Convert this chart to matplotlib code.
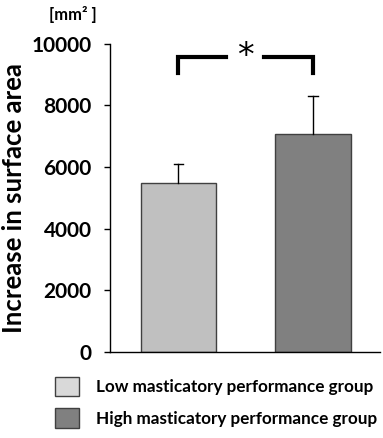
import matplotlib
matplotlib.use("Agg")
import matplotlib.pyplot as plt
from matplotlib.patches import Patch

groups = ["Low masticatory performance group", "High masticatory performance group"]
means = [5500, 7070]
errors = [600, 1230]
yticks = [0, 2000, 4000, 6000, 8000, 10000]
bar_colors = ["#c0c0c0", "#808080"]
legend_colors = ["#d9d9d9", "#808080"]

plt.rcParams['font.family'] = ['Lato', 'DejaVu Sans']

fig = plt.figure(figsize=(3.83, 4.38), dpi=100)
ax = fig.add_axes([0.287, 0.196, 0.705, 0.704])
x = [0, 1]
width = 0.56
ax.bar(x, means, width=width, color=bar_colors, edgecolor="#404040", linewidth=1.0, zorder=2)
cap = 0.035
for xi, m, e in zip(x, means, errors):
    ax.plot([xi, xi], [m, m + e], color='black', lw=1.0, zorder=3)
    ax.plot([xi - cap, xi + cap], [m + e, m + e], color='black', lw=1.0, zorder=3)

ax.set_xlim(-0.509, 1.498)
ax.set_ylim(0, 10000)
ax.set_yticks(yticks)
ax.set_yticklabels([str(t) for t in yticks], fontsize=15, fontweight='bold')
ax.set_xticks([])
for s in ['top', 'right']:
    ax.spines[s].set_visible(False)
ax.spines['left'].set_linewidth(1.0)
ax.spines['bottom'].set_linewidth(1.0)
ax.tick_params(axis='y', direction='out', length=4, width=1.0, pad=9)
ax.set_ylabel("Increase in surface area", fontsize=18.5, fontweight='bold')
ax.yaxis.set_label_coords(-0.312, 0.5)

# significance bracket
yb, yd = 9580, 9060
ax.plot([0, 0, 0.355], [yd, yb, yb], color='black', lw=3, solid_joinstyle='miter', clip_on=False)
ax.plot([0.636, 1, 1], [yb, yb, yd], color='black', lw=3, solid_joinstyle='miter', clip_on=False)
ax.text(0.495, yb, "*", ha='center', va='center', fontsize=24, family='DejaVu Sans')

fig.text(0.19, 0.968, "[mm² ]", ha='center', va='center', fontsize=12, fontweight='bold')

handles = [Patch(facecolor=c, edgecolor='#404040', linewidth=1.0) for c in legend_colors]
fig.legend(handles, groups, loc='upper left', bbox_to_anchor=(0.143, 0.14), frameon=False,
           prop={'weight': 'bold', 'size': 12.3}, handlelength=1.4, handleheight=1.4,
           handletextpad=1.0, labelspacing=0.7, borderpad=0, borderaxespad=0)

fig.savefig("out.png", dpi=100)
